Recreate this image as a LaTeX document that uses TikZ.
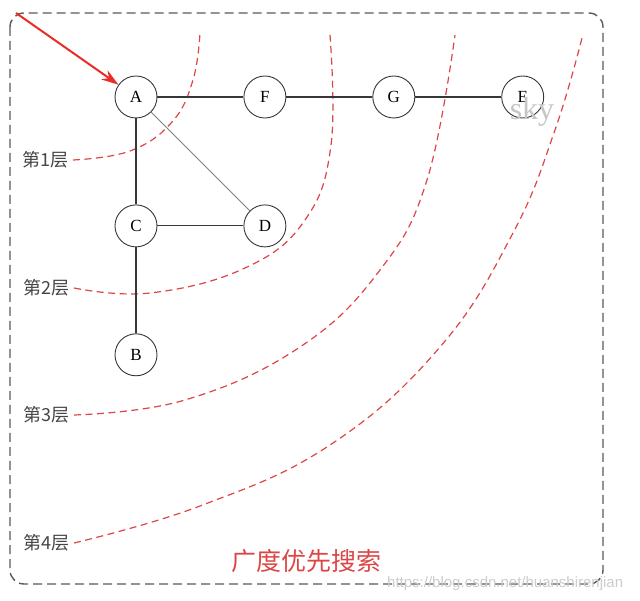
\documentclass[tikz,border=0pt]{standalone}
\usepackage{fontspec}
\setmainfont{Liberation Serif}
\newfontfamily\cjk{Noto Sans CJK SC}
\newfontfamily\wmfont{Liberation Sans}
\usetikzlibrary{positioning, arrows.meta}
\definecolor{bfsred}{RGB}{222, 70, 70}
\definecolor{bfsarrow}{RGB}{235, 45, 40}
\definecolor{bfsdark}{RGB}{55, 55, 55}
\definecolor{bfsframe}{RGB}{90, 90, 90}
\definecolor{bfstext}{RGB}{70, 70, 70}

\begin{document}
\begin{tikzpicture}[
    x=1pt, y=-1pt,
    node distance=86pt,
    vertex/.style={circle, draw=bfsdark, line width=0.9pt, minimum size=42pt,
                   inner sep=0pt, fill=white, font=\fontsize{17}{17}\selectfont},
    edge/.style={draw=bfsdark, line width=1.1pt},
    layer/.style={draw=bfsred, dash pattern=on 7pt off 4.5pt, line width=1.2pt},
    level/.style={anchor=east, inner sep=0pt, text=bfstext,
                  font=\cjk\fontsize{18}{18}\selectfont},
    frame/.style={draw=bfsframe, dash pattern=on 9pt off 5pt, line width=1.4pt,
                  rounded corners=14pt},
    arrow/.style={-{Stealth[length=17pt, width=11pt]}, line width=2pt, draw=bfsarrow}
  ]
    \useasboundingbox (0,0) rectangle (640,601);
    \fill[white] (0,0) rectangle (640,601);

    % layer labels and curves
    \node[level] (l1) at (69,160) {第1层};
    \node[level] (l2) at (70,288) {第2层};
    \node[level] (l3) at (70,415) {第3层};
    \node[level] (l4) at (70,543) {第4层};

    \draw[layer] plot[smooth, tension=0.7] coordinates {([xshift=4pt]l1.east)
        (130,151) (172,122) (193,80) (200,33)};
    \draw[layer] plot[smooth, tension=0.7] coordinates {([xshift=4pt]l2.east)
        (150,293) (245,268) (305,220) (331,145) (330,35)};
    \draw[layer] plot[smooth, tension=0.7] coordinates {([xshift=4pt]l3.east)
        (185,400) (300,347) (380,270) (427,180) (455,35)};
    \draw[layer] plot[smooth, tension=0.7] coordinates {([xshift=4pt]l4.east)
        (200,506) (330,445) (440,347) (513,233) (555,130) (582,38)};

    % graph
    \node[vertex] at (136,97) (A) {A};
    \node[vertex, right=of A] (F) {F};
    \node[vertex, right=of F] (G) {G};
    \node[vertex, right=of G] (E) {E};
    \node[vertex, below=of A] (C) {C};
    \node[vertex, right=of C] (D) {D};
    \node[vertex, below=of C] (B) {B};

    \draw[edge] (A) -- (F);
    \draw[edge] (F) -- (G);
    \draw[edge] (G) -- (E);
    \draw[edge] (A) -- (C);
    \draw[edge] (C) -- (D);
    \draw[edge] (C) -- (B);
    \draw[draw=gray, line width=0.8pt] (A) -- (D);

    % frame, start arrow, captions
    \draw[frame] (10,13) rectangle (603,584);
    \coordinate (start) at (16,13);
    \draw[arrow] (start) -- (A);

    \node[text=gray!45, font=\fontsize{32}{32}\selectfont] (sky) at (532,112) {sky};
    \node[text=bfsred, font=\cjk\fontsize{25}{25}\selectfont] (title) at (306,561) {广度优先搜索};
    \node[text=gray!40, font=\wmfont\fontsize{15}{15}\selectfont, anchor=base west,
          inner sep=0pt] (wm) at (387,587) {https://blog.csdn.net/huanshirenjian};
\end{tikzpicture}
\end{document}
